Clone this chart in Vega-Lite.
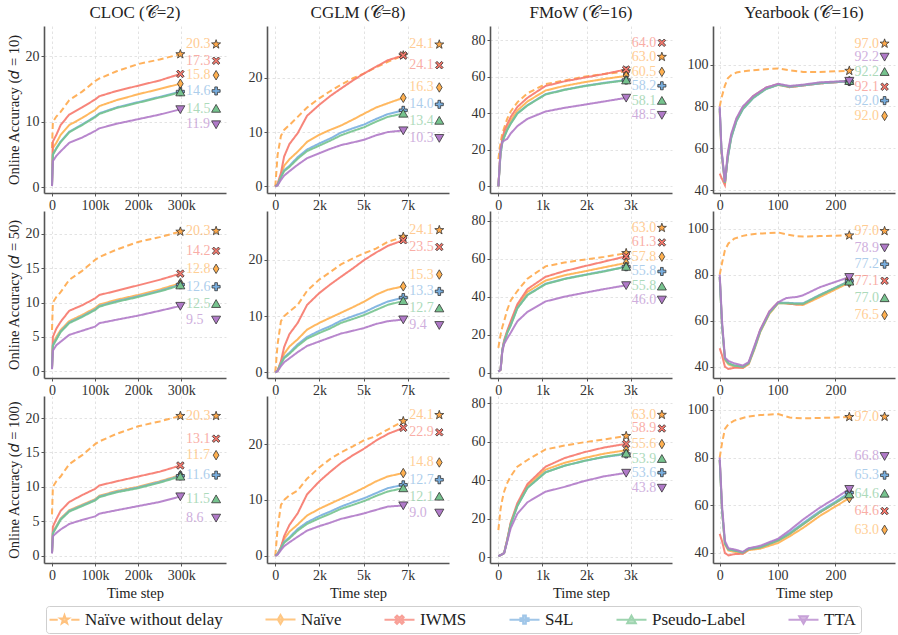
{
"$schema":"https://vega.github.io/schema/vega-lite/v6.json",
"padding":{"left":6,"top":4,"right":4,"bottom":2},
"background":"white",
"datasets":{
"d":[
{"p":"A1","x":0,"nd":6,"nv":0.3,"iw":0.5,"s4":0.3,"pl":0.3,"tt":0.2},
{"p":"A1","x":2000,"nd":10,"nv":6.0,"iw":7.0,"s4":5.0,"pl":5.0,"tt":4.0},
{"p":"A1","x":10000,"nd":10.8,"nv":6.8,"iw":8.0,"s4":6.0,"pl":5.9,"tt":4.8},
{"p":"A1","x":20000,"nd":11.5,"nv":8.0,"iw":9.5,"s4":7.0,"pl":6.9,"tt":5.5},
{"p":"A1","x":40000,"nd":13.3,"nv":9.5,"iw":11.1,"s4":8.5,"pl":8.4,"tt":6.8},
{"p":"A1","x":70000,"nd":14.6,"nv":10.6,"iw":12.2,"s4":9.6,"pl":9.5,"tt":7.6},
{"p":"A1","x":100000,"nd":16.2,"nv":11.8,"iw":13.4,"s4":10.8,"pl":10.7,"tt":8.6},
{"p":"A1","x":110000,"nd":16.6,"nv":12.4,"iw":13.9,"s4":11.3,"pl":11.2,"tt":9.0},
{"p":"A1","x":150000,"nd":17.7,"nv":13.3,"iw":14.7,"s4":12.2,"pl":12.1,"tt":9.7},
{"p":"A1","x":200000,"nd":18.8,"nv":14.2,"iw":15.5,"s4":13.0,"pl":12.9,"tt":10.4},
{"p":"A1","x":250000,"nd":19.5,"nv":15.0,"iw":16.3,"s4":13.8,"pl":13.7,"tt":11.1},
{"p":"A1","x":298000,"nd":20.3,"nv":15.8,"iw":17.3,"s4":14.6,"pl":14.5,"tt":11.9},
{"p":"A2","x":0,"nd":6,"nv":0.5,"iw":0.5,"s4":0.4,"pl":0.4,"tt":0.3},
{"p":"A2","x":2000,"nd":10,"nv":4.0,"iw":5.0,"s4":3.8,"pl":3.7,"tt":3.0},
{"p":"A2","x":10000,"nd":10.8,"nv":5.0,"iw":6.2,"s4":4.7,"pl":4.6,"tt":3.8},
{"p":"A2","x":20000,"nd":11.5,"nv":6.0,"iw":7.2,"s4":5.8,"pl":5.7,"tt":4.3},
{"p":"A2","x":40000,"nd":13.3,"nv":7.3,"iw":8.8,"s4":7.1,"pl":7.0,"tt":5.3},
{"p":"A2","x":70000,"nd":14.6,"nv":8.2,"iw":9.6,"s4":8.0,"pl":7.9,"tt":5.9},
{"p":"A2","x":100000,"nd":16.2,"nv":9.2,"iw":10.6,"s4":9.0,"pl":8.9,"tt":6.5},
{"p":"A2","x":110000,"nd":16.6,"nv":9.7,"iw":11.1,"s4":9.5,"pl":9.4,"tt":7.0},
{"p":"A2","x":150000,"nd":17.7,"nv":10.4,"iw":11.7,"s4":10.2,"pl":10.1,"tt":7.5},
{"p":"A2","x":200000,"nd":18.8,"nv":11.1,"iw":12.5,"s4":10.9,"pl":10.8,"tt":8.1},
{"p":"A2","x":250000,"nd":19.5,"nv":11.9,"iw":13.3,"s4":11.7,"pl":11.6,"tt":8.8},
{"p":"A2","x":298000,"nd":20.3,"nv":12.8,"iw":14.2,"s4":12.6,"pl":12.5,"tt":9.5},
{"p":"A3","x":0,"nd":6,"nv":0.4,"iw":0.5,"s4":0.4,"pl":0.4,"tt":0.3},
{"p":"A3","x":2000,"nd":10,"nv":3.5,"iw":4.2,"s4":3.3,"pl":3.2,"tt":2.8},
{"p":"A3","x":10000,"nd":10.8,"nv":4.3,"iw":5.3,"s4":4.2,"pl":4.1,"tt":3.3},
{"p":"A3","x":20000,"nd":11.5,"nv":5.4,"iw":6.5,"s4":5.3,"pl":5.2,"tt":3.8},
{"p":"A3","x":40000,"nd":13.3,"nv":6.6,"iw":7.8,"s4":6.5,"pl":6.4,"tt":4.6},
{"p":"A3","x":70000,"nd":14.6,"nv":7.4,"iw":8.8,"s4":7.3,"pl":7.2,"tt":5.2},
{"p":"A3","x":100000,"nd":16.2,"nv":8.2,"iw":9.7,"s4":8.1,"pl":8.0,"tt":5.7},
{"p":"A3","x":110000,"nd":16.6,"nv":8.7,"iw":10.2,"s4":8.6,"pl":8.5,"tt":6.1},
{"p":"A3","x":150000,"nd":17.7,"nv":9.4,"iw":10.8,"s4":9.3,"pl":9.2,"tt":6.6},
{"p":"A3","x":200000,"nd":18.8,"nv":10.0,"iw":11.5,"s4":9.9,"pl":9.8,"tt":7.2},
{"p":"A3","x":250000,"nd":19.5,"nv":10.8,"iw":12.2,"s4":10.7,"pl":10.6,"tt":7.8},
{"p":"A3","x":298000,"nd":20.3,"nv":11.7,"iw":13.1,"s4":11.6,"pl":11.5,"tt":8.6},
{"p":"B1","x":0,"nd":0,"nv":0,"iw":0,"s4":0,"pl":0,"tt":0},
{"p":"B1","x":130,"nd":5.8,"nv":0.3,"iw":0.5,"s4":0.3,"pl":0.3,"tt":0.2},
{"p":"B1","x":320,"nd":9.3,"nv":2.0,"iw":2.5,"s4":1.8,"pl":1.7,"tt":1.2},
{"p":"B1","x":500,"nd":10.4,"nv":3.8,"iw":5.5,"s4":3.0,"pl":2.8,"tt":2.0},
{"p":"B1","x":800,"nd":11.3,"nv":5.0,"iw":7.8,"s4":3.8,"pl":3.6,"tt":2.8},
{"p":"B1","x":1270,"nd":12.8,"nv":6.4,"iw":9.8,"s4":5.4,"pl":5.1,"tt":4.0},
{"p":"B1","x":1800,"nd":14.5,"nv":8.2,"iw":13.0,"s4":6.8,"pl":6.5,"tt":5.2},
{"p":"B1","x":2490,"nd":16.2,"nv":9.5,"iw":15.0,"s4":7.9,"pl":7.5,"tt":6.1},
{"p":"B1","x":3100,"nd":17.5,"nv":10.4,"iw":16.6,"s4":8.8,"pl":8.4,"tt":6.9},
{"p":"B1","x":3720,"nd":18.7,"nv":11.2,"iw":18.0,"s4":9.9,"pl":9.4,"tt":7.6},
{"p":"B1","x":4400,"nd":19.9,"nv":12.3,"iw":19.5,"s4":10.7,"pl":10.2,"tt":8.1},
{"p":"B1","x":5040,"nd":20.8,"nv":13.4,"iw":20.8,"s4":11.4,"pl":10.9,"tt":8.6},
{"p":"B1","x":5700,"nd":21.9,"nv":14.5,"iw":22.0,"s4":12.4,"pl":11.9,"tt":9.4},
{"p":"B1","x":6370,"nd":22.9,"nv":15.3,"iw":23.2,"s4":13.3,"pl":12.8,"tt":10.0},
{"p":"B1","x":7250,"nd":24.1,"nv":16.3,"iw":24.1,"s4":14.0,"pl":13.4,"tt":10.3},
{"p":"B2","x":0,"nd":0,"nv":0,"iw":0,"s4":0,"pl":0,"tt":0},
{"p":"B2","x":130,"nd":5.0,"nv":0.3,"iw":0.3,"s4":0.3,"pl":0.3,"tt":0.2},
{"p":"B2","x":320,"nd":9.1,"nv":1.8,"iw":2.0,"s4":1.6,"pl":1.5,"tt":1.1},
{"p":"B2","x":500,"nd":10.0,"nv":3.3,"iw":4.5,"s4":2.7,"pl":2.5,"tt":1.8},
{"p":"B2","x":800,"nd":10.8,"nv":4.6,"iw":6.8,"s4":3.5,"pl":3.3,"tt":2.5},
{"p":"B2","x":1270,"nd":12.0,"nv":5.9,"iw":8.8,"s4":5.0,"pl":4.7,"tt":3.6},
{"p":"B2","x":1800,"nd":14.5,"nv":7.6,"iw":12.0,"s4":6.3,"pl":6.0,"tt":4.7},
{"p":"B2","x":2490,"nd":16.5,"nv":8.8,"iw":14.1,"s4":7.4,"pl":7.0,"tt":5.5},
{"p":"B2","x":3100,"nd":17.8,"nv":9.7,"iw":15.6,"s4":8.2,"pl":7.8,"tt":6.2},
{"p":"B2","x":3720,"nd":19.2,"nv":10.6,"iw":17.0,"s4":9.2,"pl":8.8,"tt":6.9},
{"p":"B2","x":4400,"nd":20.3,"nv":11.6,"iw":18.5,"s4":10.0,"pl":9.5,"tt":7.4},
{"p":"B2","x":5040,"nd":21.2,"nv":12.6,"iw":20.0,"s4":10.7,"pl":10.2,"tt":7.9},
{"p":"B2","x":5700,"nd":22.0,"nv":13.8,"iw":21.3,"s4":11.7,"pl":11.1,"tt":8.6},
{"p":"B2","x":6370,"nd":23.2,"nv":14.7,"iw":22.5,"s4":12.6,"pl":12.0,"tt":9.1},
{"p":"B2","x":7250,"nd":24.1,"nv":15.3,"iw":23.5,"s4":13.3,"pl":12.7,"tt":9.4},
{"p":"B3","x":0,"nd":0,"nv":0,"iw":0,"s4":0,"pl":0,"tt":0},
{"p":"B3","x":130,"nd":4.9,"nv":0.3,"iw":0.3,"s4":0.3,"pl":0.3,"tt":0.2},
{"p":"B3","x":320,"nd":9.1,"nv":1.6,"iw":1.5,"s4":1.4,"pl":1.3,"tt":1.0},
{"p":"B3","x":500,"nd":10.0,"nv":3.0,"iw":3.5,"s4":2.5,"pl":2.3,"tt":1.7},
{"p":"B3","x":800,"nd":10.8,"nv":4.3,"iw":5.5,"s4":3.3,"pl":3.1,"tt":2.4},
{"p":"B3","x":1270,"nd":11.7,"nv":5.6,"iw":7.6,"s4":4.8,"pl":4.5,"tt":3.4},
{"p":"B3","x":1800,"nd":13.8,"nv":7.2,"iw":11.0,"s4":6.0,"pl":5.7,"tt":4.5},
{"p":"B3","x":2490,"nd":15.8,"nv":8.4,"iw":13.3,"s4":7.1,"pl":6.7,"tt":5.3},
{"p":"B3","x":3100,"nd":17.3,"nv":9.3,"iw":15.0,"s4":7.9,"pl":7.5,"tt":5.9},
{"p":"B3","x":3720,"nd":18.5,"nv":10.2,"iw":16.6,"s4":8.8,"pl":8.4,"tt":6.6},
{"p":"B3","x":4400,"nd":19.6,"nv":11.2,"iw":18.0,"s4":9.6,"pl":9.1,"tt":7.1},
{"p":"B3","x":5040,"nd":20.7,"nv":12.2,"iw":19.2,"s4":10.3,"pl":9.8,"tt":7.6},
{"p":"B3","x":5700,"nd":21.4,"nv":13.3,"iw":20.6,"s4":11.2,"pl":10.7,"tt":8.2},
{"p":"B3","x":6370,"nd":22.6,"nv":14.2,"iw":21.8,"s4":12.1,"pl":11.5,"tt":8.8},
{"p":"B3","x":7250,"nd":24.1,"nv":14.8,"iw":22.9,"s4":12.7,"pl":12.1,"tt":9.0},
{"p":"C1","x":0,"nd":15,"nv":0,"iw":0,"s4":0,"pl":0,"tt":0},
{"p":"C1","x":50,"nd":24,"nv":19,"iw":20,"s4":18,"pl":18,"tt":20},
{"p":"C1","x":90,"nd":29,"nv":25,"iw":26,"s4":24,"pl":24,"tt":24.5},
{"p":"C1","x":130,"nd":32,"nv":28,"iw":30,"s4":27,"pl":26.8,"tt":25},
{"p":"C1","x":200,"nd":37,"nv":32,"iw":34,"s4":31,"pl":30.8,"tt":26},
{"p":"C1","x":280,"nd":41,"nv":36,"iw":38,"s4":34.5,"pl":34.3,"tt":29},
{"p":"C1","x":430,"nd":46,"nv":41.5,"iw":43.5,"s4":40,"pl":39.8,"tt":33},
{"p":"C1","x":660,"nd":51,"nv":46.5,"iw":48.5,"s4":44.5,"pl":44.3,"tt":37},
{"p":"C1","x":1070,"nd":56,"nv":52.5,"iw":55,"s4":50.5,"pl":50.3,"tt":41},
{"p":"C1","x":1500,"nd":58,"nv":55,"iw":57.5,"s4":53,"pl":52.8,"tt":43},
{"p":"C1","x":1940,"nd":60,"nv":57,"iw":59.5,"s4":55,"pl":54.8,"tt":44.7},
{"p":"C1","x":2400,"nd":61.5,"nv":58.8,"iw":61.5,"s4":56.7,"pl":56.5,"tt":46.5},
{"p":"C1","x":2900,"nd":63.0,"nv":60.5,"iw":64.0,"s4":58.2,"pl":58.1,"tt":48.5},
{"p":"C2","x":0,"nd":13,"nv":0.5,"iw":0.5,"s4":0.5,"pl":0.5,"tt":0.5},
{"p":"C2","x":50,"nd":20,"nv":1.5,"iw":1.5,"s4":1.5,"pl":1.5,"tt":1.5},
{"p":"C2","x":90,"nd":24,"nv":12,"iw":12,"s4":12,"pl":11.8,"tt":11},
{"p":"C2","x":130,"nd":27,"nv":16.5,"iw":17,"s4":16,"pl":15.8,"tt":15},
{"p":"C2","x":200,"nd":33,"nv":21.5,"iw":22,"s4":21,"pl":20.8,"tt":18},
{"p":"C2","x":280,"nd":38,"nv":26,"iw":27,"s4":25,"pl":24.8,"tt":21},
{"p":"C2","x":430,"nd":43,"nv":35,"iw":36,"s4":34,"pl":33.8,"tt":27},
{"p":"C2","x":660,"nd":49.5,"nv":42.5,"iw":44,"s4":41,"pl":40.8,"tt":32},
{"p":"C2","x":1070,"nd":56,"nv":48.5,"iw":50.5,"s4":46.8,"pl":46.6,"tt":37.5},
{"p":"C2","x":1500,"nd":58,"nv":51.3,"iw":53.5,"s4":49.5,"pl":49.3,"tt":40},
{"p":"C2","x":1940,"nd":59.5,"nv":53.3,"iw":56,"s4":51.5,"pl":51.3,"tt":42},
{"p":"C2","x":2400,"nd":61,"nv":55.5,"iw":58.5,"s4":53.5,"pl":53.3,"tt":44},
{"p":"C2","x":2900,"nd":63.0,"nv":57.8,"iw":61.3,"s4":55.8,"pl":55.8,"tt":46.0},
{"p":"C3","x":0,"nd":14,"nv":0.5,"iw":0.5,"s4":0.5,"pl":0.5,"tt":0.5},
{"p":"C3","x":50,"nd":25,"nv":1,"iw":1,"s4":1,"pl":1,"tt":1},
{"p":"C3","x":90,"nd":30,"nv":1.5,"iw":1.5,"s4":1.5,"pl":1.5,"tt":1.5},
{"p":"C3","x":130,"nd":34,"nv":2,"iw":2,"s4":2,"pl":2,"tt":2},
{"p":"C3","x":200,"nd":38.5,"nv":9,"iw":9,"s4":8.5,"pl":8.5,"tt":8},
{"p":"C3","x":280,"nd":42,"nv":17.5,"iw":18,"s4":17,"pl":17,"tt":15},
{"p":"C3","x":430,"nd":47,"nv":27,"iw":28,"s4":26.5,"pl":26.5,"tt":22.5},
{"p":"C3","x":660,"nd":50.5,"nv":37,"iw":38,"s4":36,"pl":36,"tt":28.5},
{"p":"C3","x":1070,"nd":56,"nv":45.5,"iw":47,"s4":44.2,"pl":44,"tt":34},
{"p":"C3","x":1500,"nd":58,"nv":49,"iw":51.5,"s4":47.5,"pl":47.5,"tt":36.5},
{"p":"C3","x":1940,"nd":59.7,"nv":51.5,"iw":54.5,"s4":50,"pl":50,"tt":39.5},
{"p":"C3","x":2400,"nd":61.2,"nv":53.8,"iw":57,"s4":52,"pl":52.2,"tt":42},
{"p":"C3","x":2900,"nd":63.0,"nv":55.6,"iw":58.9,"s4":53.6,"pl":53.9,"tt":43.8},
{"p":"D1","x":0,"nd":80,"nv":78,"iw":48,"s4":79,"pl":79,"tt":80},
{"p":"D1","x":3,"nd":84,"nv":58,"iw":46,"s4":59,"pl":59,"tt":60},
{"p":"D1","x":9,"nd":90,"nv":43,"iw":42.5,"s4":43.5,"pl":43.5,"tt":44},
{"p":"D1","x":14,"nd":93.4,"nv":56,"iw":57,"s4":55.5,"pl":56,"tt":58},
{"p":"D1","x":20,"nd":95,"nv":65.5,"iw":66,"s4":65,"pl":65.5,"tt":67},
{"p":"D1","x":29,"nd":96.2,"nv":73.5,"iw":74,"s4":73,"pl":73.2,"tt":74.5},
{"p":"D1","x":40,"nd":96.8,"nv":79,"iw":79.5,"s4":78.6,"pl":78.8,"tt":80},
{"p":"D1","x":58,"nd":97.3,"nv":84.3,"iw":85,"s4":84,"pl":84.2,"tt":85},
{"p":"D1","x":80,"nd":97.8,"nv":88.5,"iw":89,"s4":88.3,"pl":88.4,"tt":89},
{"p":"D1","x":101,"nd":98.1,"nv":90.3,"iw":90.7,"s4":90.3,"pl":90.4,"tt":90.8},
{"p":"D1","x":121,"nd":97.3,"nv":89.2,"iw":89.2,"s4":89.4,"pl":89.5,"tt":89.8},
{"p":"D1","x":144,"nd":96.5,"nv":90.0,"iw":90.0,"s4":90.0,"pl":90.2,"tt":90.4},
{"p":"D1","x":173,"nd":96.5,"nv":91,"iw":91,"s4":91,"pl":91.2,"tt":91.5},
{"p":"D1","x":224,"nd":97.0,"nv":92.0,"iw":92.1,"s4":92.0,"pl":92.2,"tt":92.2},
{"p":"D2","x":0,"nd":80,"nv":79,"iw":48,"s4":79,"pl":79,"tt":80},
{"p":"D2","x":4,"nd":85,"nv":58,"iw":45,"s4":58,"pl":58,"tt":60},
{"p":"D2","x":9,"nd":90.5,"nv":43,"iw":40,"s4":43.5,"pl":43.5,"tt":44},
{"p":"D2","x":15,"nd":93.5,"nv":41,"iw":39,"s4":41.5,"pl":41.5,"tt":42.5},
{"p":"D2","x":25,"nd":95.6,"nv":40,"iw":39.5,"s4":40.5,"pl":40.5,"tt":41.5},
{"p":"D2","x":40,"nd":96.8,"nv":39.5,"iw":39.5,"s4":40,"pl":40,"tt":40.5},
{"p":"D2","x":50,"nd":97.3,"nv":41,"iw":41.5,"s4":41.5,"pl":41.5,"tt":42},
{"p":"D2","x":60,"nd":97.6,"nv":47.5,"iw":48.5,"s4":48,"pl":48,"tt":49},
{"p":"D2","x":70,"nd":97.8,"nv":55,"iw":56,"s4":55.5,"pl":55.3,"tt":56},
{"p":"D2","x":86,"nd":98.0,"nv":63,"iw":64,"s4":63.5,"pl":63.3,"tt":64},
{"p":"D2","x":101,"nd":98.3,"nv":67.5,"iw":68,"s4":67.8,"pl":67.6,"tt":68},
{"p":"D2","x":115,"nd":97.5,"nv":67.5,"iw":67.5,"s4":67.8,"pl":67.6,"tt":69.8},
{"p":"D2","x":133,"nd":96.6,"nv":67.0,"iw":67.0,"s4":67.5,"pl":67.3,"tt":70.3},
{"p":"D2","x":144,"nd":96.5,"nv":66.8,"iw":67.2,"s4":67.5,"pl":67.3,"tt":71},
{"p":"D2","x":173,"nd":96.7,"nv":70.2,"iw":71,"s4":71.2,"pl":71,"tt":74.5},
{"p":"D2","x":224,"nd":97.0,"nv":76.5,"iw":77.1,"s4":77.2,"pl":77.0,"tt":78.9},
{"p":"D3","x":0,"nd":80,"nv":79,"iw":48,"s4":79,"pl":79,"tt":80},
{"p":"D3","x":4,"nd":86,"nv":58,"iw":45,"s4":58,"pl":58,"tt":60},
{"p":"D3","x":9,"nd":92,"nv":43.5,"iw":40,"s4":44,"pl":44,"tt":45},
{"p":"D3","x":15,"nd":94,"nv":41,"iw":39,"s4":41.5,"pl":41.5,"tt":42},
{"p":"D3","x":25,"nd":95.5,"nv":40.5,"iw":39.5,"s4":41,"pl":41,"tt":41.5},
{"p":"D3","x":40,"nd":96.6,"nv":39.7,"iw":39.7,"s4":40.2,"pl":40.2,"tt":40.5},
{"p":"D3","x":50,"nd":97.2,"nv":41.2,"iw":41.5,"s4":41.8,"pl":41.6,"tt":42},
{"p":"D3","x":70,"nd":97.8,"nv":41.8,"iw":42.3,"s4":42.5,"pl":42.3,"tt":43},
{"p":"D3","x":101,"nd":98.2,"nv":44.2,"iw":45.2,"s4":45.6,"pl":45.2,"tt":46},
{"p":"D3","x":121,"nd":96.8,"nv":47,"iw":48,"s4":48.5,"pl":48,"tt":49.5},
{"p":"D3","x":144,"nd":96.4,"nv":50.5,"iw":52,"s4":52.5,"pl":52,"tt":54},
{"p":"D3","x":173,"nd":96.6,"nv":55.5,"iw":57,"s4":57.5,"pl":57,"tt":59},
{"p":"D3","x":200,"nd":96.8,"nv":59.5,"iw":61,"s4":61.5,"pl":61,"tt":63},
{"p":"D3","x":224,"nd":97.0,"nv":63.0,"iw":64.6,"s4":65.3,"pl":64.6,"tt":66.8}
],
"l":[
{"p":"A1","s":"nd","v":20.3,"x":381000,"y":21.8},
{"p":"A1","s":"iw","v":17.3,"x":381000,"y":19.3},
{"p":"A1","s":"nv","v":15.8,"x":381000,"y":17.1},
{"p":"A1","s":"s4","v":14.6,"x":381000,"y":14.7},
{"p":"A1","s":"pl","v":14.5,"x":381000,"y":12.0},
{"p":"A1","s":"tt","v":11.9,"x":381000,"y":9.6},
{"p":"A2","s":"nd","v":20.3,"x":381000,"y":20.4},
{"p":"A2","s":"iw","v":14.2,"x":381000,"y":17.5},
{"p":"A2","s":"nv","v":12.8,"x":381000,"y":14.9},
{"p":"A2","s":"s4","v":12.6,"x":381000,"y":12.3},
{"p":"A2","s":"pl","v":12.5,"x":381000,"y":9.8},
{"p":"A2","s":"tt","v":9.5,"x":381000,"y":7.5},
{"p":"A3","s":"nd","v":20.3,"x":381000,"y":20.3},
{"p":"A3","s":"iw","v":13.1,"x":381000,"y":17.0},
{"p":"A3","s":"nv","v":11.7,"x":381000,"y":14.6},
{"p":"A3","s":"s4","v":11.6,"x":381000,"y":11.7},
{"p":"A3","s":"pl","v":11.5,"x":381000,"y":8.2},
{"p":"A3","s":"tt","v":8.6,"x":381000,"y":5.5},
{"p":"B1","s":"nd","v":24.1,"x":9290,"y":26.1},
{"p":"B1","s":"iw","v":24.1,"x":9290,"y":22.3},
{"p":"B1","s":"nv","v":16.3,"x":9290,"y":18.2},
{"p":"B1","s":"s4","v":14.0,"x":9290,"y":15.1},
{"p":"B1","s":"pl","v":13.4,"x":9290,"y":12.1},
{"p":"B1","s":"tt","v":10.3,"x":9290,"y":8.9},
{"p":"B2","s":"nd","v":24.1,"x":9290,"y":25.3},
{"p":"B2","s":"iw","v":23.5,"x":9290,"y":22.3},
{"p":"B2","s":"nv","v":15.3,"x":9290,"y":17.4},
{"p":"B2","s":"s4","v":13.3,"x":9290,"y":14.4},
{"p":"B2","s":"pl","v":12.7,"x":9290,"y":11.4},
{"p":"B2","s":"tt","v":9.4,"x":9290,"y":8.4},
{"p":"B3","s":"nd","v":24.1,"x":9290,"y":25.2},
{"p":"B3","s":"iw","v":22.9,"x":9290,"y":22.1},
{"p":"B3","s":"nv","v":14.8,"x":9290,"y":16.7},
{"p":"B3","s":"s4","v":12.7,"x":9290,"y":13.6},
{"p":"B3","s":"pl","v":12.1,"x":9290,"y":10.6},
{"p":"B3","s":"tt","v":9.0,"x":9290,"y":7.7},
{"p":"C1","s":"iw","v":64.0,"x":3710,"y":78.6},
{"p":"C1","s":"nd","v":63.0,"x":3710,"y":70.9},
{"p":"C1","s":"nv","v":60.5,"x":3710,"y":62.7},
{"p":"C1","s":"s4","v":58.2,"x":3710,"y":55.1},
{"p":"C1","s":"pl","v":58.1,"x":3710,"y":46.9},
{"p":"C1","s":"tt","v":48.5,"x":3710,"y":39.1},
{"p":"C2","s":"nd","v":63.0,"x":3710,"y":76.3},
{"p":"C2","s":"iw","v":61.3,"x":3710,"y":68.6},
{"p":"C2","s":"nv","v":57.8,"x":3710,"y":61.1},
{"p":"C2","s":"s4","v":55.8,"x":3710,"y":53.3},
{"p":"C2","s":"pl","v":55.8,"x":3710,"y":45.4},
{"p":"C2","s":"tt","v":46.0,"x":3710,"y":38.4},
{"p":"C3","s":"nd","v":63.0,"x":3710,"y":74.0},
{"p":"C3","s":"iw","v":58.9,"x":3710,"y":66.9},
{"p":"C3","s":"nv","v":55.6,"x":3710,"y":58.8},
{"p":"C3","s":"pl","v":53.9,"x":3710,"y":51.1},
{"p":"C3","s":"s4","v":53.6,"x":3710,"y":43.9},
{"p":"C3","s":"tt","v":43.8,"x":3710,"y":36.0},
{"p":"D1","s":"nd","v":97.0,"x":285,"y":110.0},
{"p":"D1","s":"tt","v":92.2,"x":285,"y":103.7},
{"p":"D1","s":"pl","v":92.2,"x":285,"y":96.5},
{"p":"D1","s":"iw","v":92.1,"x":285,"y":89.4},
{"p":"D1","s":"s4","v":92.0,"x":285,"y":82.8},
{"p":"D1","s":"nv","v":92.0,"x":285,"y":75.5},
{"p":"D2","s":"nd","v":97.0,"x":285,"y":98.9},
{"p":"D2","s":"tt","v":78.9,"x":285,"y":91.7},
{"p":"D2","s":"s4","v":77.2,"x":285,"y":84.5},
{"p":"D2","s":"iw","v":77.1,"x":285,"y":77.3},
{"p":"D2","s":"pl","v":77.0,"x":285,"y":69.8},
{"p":"D2","s":"nv","v":76.5,"x":285,"y":62.4},
{"p":"D3","s":"nd","v":97.0,"x":285,"y":97.1},
{"p":"D3","s":"tt","v":66.8,"x":285,"y":80.6},
{"p":"D3","s":"s4","v":65.3,"x":285,"y":72.6},
{"p":"D3","s":"pl","v":64.6,"x":285,"y":64.9},
{"p":"D3","s":"iw","v":64.6,"x":285,"y":57.6},
{"p":"D3","s":"nv","v":63.0,"x":285,"y":49.7}
]
},
"spacing":5,
"resolve":{"scale":{"x":"independent","y":"independent","shape":"independent","fill":"independent","stroke":"independent","color":"independent","strokeDash":"independent"}},
"vconcat":[
{"columns":4,
"spacing":{"row":18,"column":41},
"bounds":"flush",
"resolve":{"scale":{"x":"independent","y":"independent","color":"shared","shape":"shared","strokeDash":"shared"}},
"concat":[
{"width":182,"height":167,"title":{"text":"CLOC (𝒞=2)","fontWeight":"normal"},
"encoding":{"x":{"field":"x","type":"quantitative","scale":{"domain":[-18600,404000],"nice":false,"zero":false},"axis":{"values":[0,100000,200000,300000],"labelExpr":"datum.value==0?'0':floor(datum.value/1000)+'k'","title":null}},
"y":{"field":"y","type":"quantitative","scale":{"domain":[-0.85,24.6],"nice":false,"zero":false},"axis":{"values":[0,10,20],"title":"Online Accuracy (𝑑 = 10)"}},
"color":{"field":"s","type":"nominal","scale":{"domain":["nd","nv","iw","s4","pl","tt"],"range":["#FFA94A","#FFB04F","#F6786C","#78AEDF","#76C38E","#B07AC8"]},"legend":null}},
"layer":[
{"data":{"name":"d"},"transform":[{"filter":"datum.p=='A1'"},{"fold":["nd","nv","iw","s4","pl","tt"],"as":["s","y"]}],"mark":{"type":"line","strokeWidth":2,"opacity":0.9},"encoding":{"strokeDash":{"field":"s","type":"nominal","scale":{"domain":["nd","nv","iw","s4","pl","tt"],"range":[[6,3.5],[1,0],[1,0],[1,0],[1,0],[1,0]]},"legend":null}}},
{"data":{"name":"d"},"transform":[{"filter":"datum.p=='A1'"},{"fold":["nd","nv","iw","s4","pl","tt"],"as":["s","y"]},{"joinaggregate":[{"op":"max","field":"x","as":"xm"}]},{"filter":"datum.x==datum.xm"}],"mark":{"type":"point","filled":true,"stroke":"#333","strokeWidth":0.8,"size":90,"opacity":1},"encoding":{"shape":{"field":"s","type":"nominal","scale":{"domain":["nd","nv","iw","s4","pl","tt"],"range":["M0,-1L0.235,-0.324L0.951,-0.309L0.38,0.124L0.588,0.809L0,0.4L-0.588,0.809L-0.38,0.124L-0.951,-0.309L-0.235,-0.324Z","M0,-1L0.6,0L0,1L-0.6,0Z","M0,-0.32L0.48,-0.8L0.8,-0.48L0.32,0L0.8,0.48L0.48,0.8L0,0.32L-0.48,0.8L-0.8,0.48L-0.32,0L-0.8,-0.48L-0.48,-0.8Z","M-0.28,-0.85H0.28V-0.28H0.85V0.28H0.28V0.85H-0.28V0.28H-0.85V-0.28H-0.28Z","M0,-0.9L0.95,0.75L-0.95,0.75Z","M0,0.9L0.95,-0.75L-0.95,-0.75Z"]},"legend":null}}},
{"data":{"name":"l"},"transform":[{"filter":"datum.p=='A1'"}],"mark":{"type":"text","align":"left","baseline":"middle","dx":-30,"fontSize":14,"opacity":0.6},"encoding":{"text":{"field":"v","type":"quantitative","format":".1f"}}},
{"data":{"name":"l"},"transform":[{"filter":"datum.p=='A1'"}],"mark":{"type":"point","filled":true,"stroke":"#333","strokeWidth":0.8,"size":90,"opacity":1},"encoding":{"shape":{"field":"s","type":"nominal","legend":null}}}
]},
{"width":182,"height":167,"title":{"text":"CGLM (𝒞=8)","fontWeight":"normal"},
"encoding":{"x":{"field":"x","type":"quantitative","scale":{"domain":[-470,9840],"nice":false,"zero":false},"axis":{"values":[0,2500,5000,7500],"labelExpr":"datum.value==0?'0':floor(datum.value/1000)+'k'","title":null}},
"y":{"field":"y","type":"quantitative","scale":{"domain":[-1.2,29.5],"nice":false,"zero":false},"axis":{"values":[0,10,20],"title":null}},
"color":{"field":"s","type":"nominal","legend":null}},
"layer":[
{"data":{"name":"d"},"transform":[{"filter":"datum.p=='B1'"},{"fold":["nd","nv","iw","s4","pl","tt"],"as":["s","y"]}],"mark":{"type":"line","strokeWidth":2,"opacity":0.9},"encoding":{"strokeDash":{"field":"s","type":"nominal","legend":null}}},
{"data":{"name":"d"},"transform":[{"filter":"datum.p=='B1'"},{"fold":["nd","nv","iw","s4","pl","tt"],"as":["s","y"]},{"joinaggregate":[{"op":"max","field":"x","as":"xm"}]},{"filter":"datum.x==datum.xm"}],"mark":{"type":"point","filled":true,"stroke":"#333","strokeWidth":0.8,"size":90,"opacity":1},"encoding":{"shape":{"field":"s","type":"nominal","legend":null}}},
{"data":{"name":"l"},"transform":[{"filter":"datum.p=='B1'"}],"mark":{"type":"text","align":"left","baseline":"middle","dx":-30,"fontSize":14,"opacity":0.6},"encoding":{"text":{"field":"v","type":"quantitative","format":".1f"}}},
{"data":{"name":"l"},"transform":[{"filter":"datum.p=='B1'"}],"mark":{"type":"point","filled":true,"stroke":"#333","strokeWidth":0.8,"size":90,"opacity":1},"encoding":{"shape":{"field":"s","type":"nominal","legend":null}}}
]},
{"width":182,"height":167,"title":{"text":"FMoW (𝒞=16)","fontWeight":"normal"},
"encoding":{"x":{"field":"x","type":"quantitative","scale":{"domain":[-190,3940],"nice":false,"zero":false},"axis":{"values":[0,1000,2000,3000],"labelExpr":"datum.value==0?'0':floor(datum.value/1000)+'k'","title":null}},
"y":{"field":"y","type":"quantitative","scale":{"domain":[-3.6,87.8],"nice":false,"zero":false},"axis":{"values":[0,20,40,60,80],"title":null}},
"color":{"field":"s","type":"nominal","legend":null}},
"layer":[
{"data":{"name":"d"},"transform":[{"filter":"datum.p=='C1'"},{"fold":["nd","nv","iw","s4","pl","tt"],"as":["s","y"]}],"mark":{"type":"line","strokeWidth":2,"opacity":0.9},"encoding":{"strokeDash":{"field":"s","type":"nominal","legend":null}}},
{"data":{"name":"d"},"transform":[{"filter":"datum.p=='C1'"},{"fold":["nd","nv","iw","s4","pl","tt"],"as":["s","y"]},{"joinaggregate":[{"op":"max","field":"x","as":"xm"}]},{"filter":"datum.x==datum.xm"}],"mark":{"type":"point","filled":true,"stroke":"#333","strokeWidth":0.8,"size":90,"opacity":1},"encoding":{"shape":{"field":"s","type":"nominal","legend":null}}},
{"data":{"name":"l"},"transform":[{"filter":"datum.p=='C1'"}],"mark":{"type":"text","align":"left","baseline":"middle","dx":-30,"fontSize":14,"opacity":0.6},"encoding":{"text":{"field":"v","type":"quantitative","format":".1f"}}},
{"data":{"name":"l"},"transform":[{"filter":"datum.p=='C1'"}],"mark":{"type":"point","filled":true,"stroke":"#333","strokeWidth":0.8,"size":90,"opacity":1},"encoding":{"shape":{"field":"s","type":"nominal","legend":null}}}
]},
{"width":182,"height":167,"title":{"text":"Yearbook (𝒞=16)","fontWeight":"normal"},
"encoding":{"x":{"field":"x","type":"quantitative","scale":{"domain":[-11.6,303],"nice":false,"zero":false},"axis":{"values":[0,100,200],"title":null}},
"y":{"field":"y","type":"quantitative","scale":{"domain":[38.7,118.4],"nice":false,"zero":false},"axis":{"values":[40,60,80,100],"title":null}},
"color":{"field":"s","type":"nominal","legend":null}},
"layer":[
{"data":{"name":"d"},"transform":[{"filter":"datum.p=='D1'"},{"fold":["nd","nv","iw","s4","pl","tt"],"as":["s","y"]}],"mark":{"type":"line","strokeWidth":2,"opacity":0.9},"encoding":{"strokeDash":{"field":"s","type":"nominal","legend":null}}},
{"data":{"name":"d"},"transform":[{"filter":"datum.p=='D1'"},{"fold":["nd","nv","iw","s4","pl","tt"],"as":["s","y"]},{"joinaggregate":[{"op":"max","field":"x","as":"xm"}]},{"filter":"datum.x==datum.xm"}],"mark":{"type":"point","filled":true,"stroke":"#333","strokeWidth":0.8,"size":90,"opacity":1},"encoding":{"shape":{"field":"s","type":"nominal","legend":null}}},
{"data":{"name":"l"},"transform":[{"filter":"datum.p=='D1'"}],"mark":{"type":"text","align":"left","baseline":"middle","dx":-30,"fontSize":14,"opacity":0.6},"encoding":{"text":{"field":"v","type":"quantitative","format":".1f"}}},
{"data":{"name":"l"},"transform":[{"filter":"datum.p=='D1'"}],"mark":{"type":"point","filled":true,"stroke":"#333","strokeWidth":0.8,"size":90,"opacity":1},"encoding":{"shape":{"field":"s","type":"nominal","legend":null}}}
]},
{"width":182,"height":167,
"encoding":{"x":{"field":"x","type":"quantitative","scale":{"domain":[-18600,404000],"nice":false,"zero":false},"axis":{"values":[0,100000,200000,300000],"labelExpr":"datum.value==0?'0':floor(datum.value/1000)+'k'","title":null}},
"y":{"field":"y","type":"quantitative","scale":{"domain":[-0.97,23.3],"nice":false,"zero":false},"axis":{"values":[0,5,10,15,20],"title":"Online Accuracy (𝑑 = 50)"}},
"color":{"field":"s","type":"nominal","legend":null}},
"layer":[
{"data":{"name":"d"},"transform":[{"filter":"datum.p=='A2'"},{"fold":["nd","nv","iw","s4","pl","tt"],"as":["s","y"]}],"mark":{"type":"line","strokeWidth":2,"opacity":0.9},"encoding":{"strokeDash":{"field":"s","type":"nominal","legend":null}}},
{"data":{"name":"d"},"transform":[{"filter":"datum.p=='A2'"},{"fold":["nd","nv","iw","s4","pl","tt"],"as":["s","y"]},{"joinaggregate":[{"op":"max","field":"x","as":"xm"}]},{"filter":"datum.x==datum.xm"}],"mark":{"type":"point","filled":true,"stroke":"#333","strokeWidth":0.8,"size":90,"opacity":1},"encoding":{"shape":{"field":"s","type":"nominal","legend":null}}},
{"data":{"name":"l"},"transform":[{"filter":"datum.p=='A2'"}],"mark":{"type":"text","align":"left","baseline":"middle","dx":-30,"fontSize":14,"opacity":0.6},"encoding":{"text":{"field":"v","type":"quantitative","format":".1f"}}},
{"data":{"name":"l"},"transform":[{"filter":"datum.p=='A2'"}],"mark":{"type":"point","filled":true,"stroke":"#333","strokeWidth":0.8,"size":90,"opacity":1},"encoding":{"shape":{"field":"s","type":"nominal","legend":null}}}
]},
{"width":182,"height":167,
"encoding":{"x":{"field":"x","type":"quantitative","scale":{"domain":[-470,9840],"nice":false,"zero":false},"axis":{"values":[0,2500,5000,7500],"labelExpr":"datum.value==0?'0':floor(datum.value/1000)+'k'","title":null}},
"y":{"field":"y","type":"quantitative","scale":{"domain":[-1.0,28.7],"nice":false,"zero":false},"axis":{"values":[0,10,20],"title":null}},
"color":{"field":"s","type":"nominal","legend":null}},
"layer":[
{"data":{"name":"d"},"transform":[{"filter":"datum.p=='B2'"},{"fold":["nd","nv","iw","s4","pl","tt"],"as":["s","y"]}],"mark":{"type":"line","strokeWidth":2,"opacity":0.9},"encoding":{"strokeDash":{"field":"s","type":"nominal","legend":null}}},
{"data":{"name":"d"},"transform":[{"filter":"datum.p=='B2'"},{"fold":["nd","nv","iw","s4","pl","tt"],"as":["s","y"]},{"joinaggregate":[{"op":"max","field":"x","as":"xm"}]},{"filter":"datum.x==datum.xm"}],"mark":{"type":"point","filled":true,"stroke":"#333","strokeWidth":0.8,"size":90,"opacity":1},"encoding":{"shape":{"field":"s","type":"nominal","legend":null}}},
{"data":{"name":"l"},"transform":[{"filter":"datum.p=='B2'"}],"mark":{"type":"text","align":"left","baseline":"middle","dx":-30,"fontSize":14,"opacity":0.6},"encoding":{"text":{"field":"v","type":"quantitative","format":".1f"}}},
{"data":{"name":"l"},"transform":[{"filter":"datum.p=='B2'"}],"mark":{"type":"point","filled":true,"stroke":"#333","strokeWidth":0.8,"size":90,"opacity":1},"encoding":{"shape":{"field":"s","type":"nominal","legend":null}}}
]},
{"width":182,"height":167,
"encoding":{"x":{"field":"x","type":"quantitative","scale":{"domain":[-190,3940],"nice":false,"zero":false},"axis":{"values":[0,1000,2000,3000],"labelExpr":"datum.value==0?'0':floor(datum.value/1000)+'k'","title":null}},
"y":{"field":"y","type":"quantitative","scale":{"domain":[-2.9,85.2],"nice":false,"zero":false},"axis":{"values":[0,20,40,60,80],"title":null}},
"color":{"field":"s","type":"nominal","legend":null}},
"layer":[
{"data":{"name":"d"},"transform":[{"filter":"datum.p=='C2'"},{"fold":["nd","nv","iw","s4","pl","tt"],"as":["s","y"]}],"mark":{"type":"line","strokeWidth":2,"opacity":0.9},"encoding":{"strokeDash":{"field":"s","type":"nominal","legend":null}}},
{"data":{"name":"d"},"transform":[{"filter":"datum.p=='C2'"},{"fold":["nd","nv","iw","s4","pl","tt"],"as":["s","y"]},{"joinaggregate":[{"op":"max","field":"x","as":"xm"}]},{"filter":"datum.x==datum.xm"}],"mark":{"type":"point","filled":true,"stroke":"#333","strokeWidth":0.8,"size":90,"opacity":1},"encoding":{"shape":{"field":"s","type":"nominal","legend":null}}},
{"data":{"name":"l"},"transform":[{"filter":"datum.p=='C2'"}],"mark":{"type":"text","align":"left","baseline":"middle","dx":-30,"fontSize":14,"opacity":0.6},"encoding":{"text":{"field":"v","type":"quantitative","format":".1f"}}},
{"data":{"name":"l"},"transform":[{"filter":"datum.p=='C2'"}],"mark":{"type":"point","filled":true,"stroke":"#333","strokeWidth":0.8,"size":90,"opacity":1},"encoding":{"shape":{"field":"s","type":"nominal","legend":null}}}
]},
{"width":182,"height":167,
"encoding":{"x":{"field":"x","type":"quantitative","scale":{"domain":[-11.6,303],"nice":false,"zero":false},"axis":{"values":[0,100,200],"title":null}},
"y":{"field":"y","type":"quantitative","scale":{"domain":[35.1,107.6],"nice":false,"zero":false},"axis":{"values":[40,60,80,100],"title":null}},
"color":{"field":"s","type":"nominal","legend":null}},
"layer":[
{"data":{"name":"d"},"transform":[{"filter":"datum.p=='D2'"},{"fold":["nd","nv","iw","s4","pl","tt"],"as":["s","y"]}],"mark":{"type":"line","strokeWidth":2,"opacity":0.9},"encoding":{"strokeDash":{"field":"s","type":"nominal","legend":null}}},
{"data":{"name":"d"},"transform":[{"filter":"datum.p=='D2'"},{"fold":["nd","nv","iw","s4","pl","tt"],"as":["s","y"]},{"joinaggregate":[{"op":"max","field":"x","as":"xm"}]},{"filter":"datum.x==datum.xm"}],"mark":{"type":"point","filled":true,"stroke":"#333","strokeWidth":0.8,"size":90,"opacity":1},"encoding":{"shape":{"field":"s","type":"nominal","legend":null}}},
{"data":{"name":"l"},"transform":[{"filter":"datum.p=='D2'"}],"mark":{"type":"text","align":"left","baseline":"middle","dx":-30,"fontSize":14,"opacity":0.6},"encoding":{"text":{"field":"v","type":"quantitative","format":".1f"}}},
{"data":{"name":"l"},"transform":[{"filter":"datum.p=='D2'"}],"mark":{"type":"point","filled":true,"stroke":"#333","strokeWidth":0.8,"size":90,"opacity":1},"encoding":{"shape":{"field":"s","type":"nominal","legend":null}}}
]},
{"width":182,"height":167,
"encoding":{"x":{"field":"x","type":"quantitative","scale":{"domain":[-18600,404000],"nice":false,"zero":false},"axis":{"values":[0,100000,200000,300000],"labelExpr":"datum.value==0?'0':floor(datum.value/1000)+'k'","title":"Time step"}},
"y":{"field":"y","type":"quantitative","scale":{"domain":[-1.07,23.2],"nice":false,"zero":false},"axis":{"values":[0,5,10,15,20],"title":"Online Accuracy (𝑑 = 100)"}},
"color":{"field":"s","type":"nominal","legend":null}},
"layer":[
{"data":{"name":"d"},"transform":[{"filter":"datum.p=='A3'"},{"fold":["nd","nv","iw","s4","pl","tt"],"as":["s","y"]}],"mark":{"type":"line","strokeWidth":2,"opacity":0.9},"encoding":{"strokeDash":{"field":"s","type":"nominal","legend":null}}},
{"data":{"name":"d"},"transform":[{"filter":"datum.p=='A3'"},{"fold":["nd","nv","iw","s4","pl","tt"],"as":["s","y"]},{"joinaggregate":[{"op":"max","field":"x","as":"xm"}]},{"filter":"datum.x==datum.xm"}],"mark":{"type":"point","filled":true,"stroke":"#333","strokeWidth":0.8,"size":90,"opacity":1},"encoding":{"shape":{"field":"s","type":"nominal","legend":null}}},
{"data":{"name":"l"},"transform":[{"filter":"datum.p=='A3'"}],"mark":{"type":"text","align":"left","baseline":"middle","dx":-30,"fontSize":14,"opacity":0.6},"encoding":{"text":{"field":"v","type":"quantitative","format":".1f"}}},
{"data":{"name":"l"},"transform":[{"filter":"datum.p=='A3'"}],"mark":{"type":"point","filled":true,"stroke":"#333","strokeWidth":0.8,"size":90,"opacity":1},"encoding":{"shape":{"field":"s","type":"nominal","legend":null}}}
]},
{"width":182,"height":167,
"encoding":{"x":{"field":"x","type":"quantitative","scale":{"domain":[-470,9840],"nice":false,"zero":false},"axis":{"values":[0,2500,5000,7500],"labelExpr":"datum.value==0?'0':floor(datum.value/1000)+'k'","title":"Time step"}},
"y":{"field":"y","type":"quantitative","scale":{"domain":[-1.3,28.6],"nice":false,"zero":false},"axis":{"values":[0,10,20],"title":null}},
"color":{"field":"s","type":"nominal","legend":null}},
"layer":[
{"data":{"name":"d"},"transform":[{"filter":"datum.p=='B3'"},{"fold":["nd","nv","iw","s4","pl","tt"],"as":["s","y"]}],"mark":{"type":"line","strokeWidth":2,"opacity":0.9},"encoding":{"strokeDash":{"field":"s","type":"nominal","legend":null}}},
{"data":{"name":"d"},"transform":[{"filter":"datum.p=='B3'"},{"fold":["nd","nv","iw","s4","pl","tt"],"as":["s","y"]},{"joinaggregate":[{"op":"max","field":"x","as":"xm"}]},{"filter":"datum.x==datum.xm"}],"mark":{"type":"point","filled":true,"stroke":"#333","strokeWidth":0.8,"size":90,"opacity":1},"encoding":{"shape":{"field":"s","type":"nominal","legend":null}}},
{"data":{"name":"l"},"transform":[{"filter":"datum.p=='B3'"}],"mark":{"type":"text","align":"left","baseline":"middle","dx":-30,"fontSize":14,"opacity":0.6},"encoding":{"text":{"field":"v","type":"quantitative","format":".1f"}}},
{"data":{"name":"l"},"transform":[{"filter":"datum.p=='B3'"}],"mark":{"type":"point","filled":true,"stroke":"#333","strokeWidth":0.8,"size":90,"opacity":1},"encoding":{"shape":{"field":"s","type":"nominal","legend":null}}}
]},
{"width":182,"height":167,
"encoding":{"x":{"field":"x","type":"quantitative","scale":{"domain":[-190,3940],"nice":false,"zero":false},"axis":{"values":[0,1000,2000,3000],"labelExpr":"datum.value==0?'0':floor(datum.value/1000)+'k'","title":"Time step"}},
"y":{"field":"y","type":"quantitative","scale":{"domain":[-3.1,83.8],"nice":false,"zero":false},"axis":{"values":[0,20,40,60,80],"title":null}},
"color":{"field":"s","type":"nominal","legend":null}},
"layer":[
{"data":{"name":"d"},"transform":[{"filter":"datum.p=='C3'"},{"fold":["nd","nv","iw","s4","pl","tt"],"as":["s","y"]}],"mark":{"type":"line","strokeWidth":2,"opacity":0.9},"encoding":{"strokeDash":{"field":"s","type":"nominal","legend":null}}},
{"data":{"name":"d"},"transform":[{"filter":"datum.p=='C3'"},{"fold":["nd","nv","iw","s4","pl","tt"],"as":["s","y"]},{"joinaggregate":[{"op":"max","field":"x","as":"xm"}]},{"filter":"datum.x==datum.xm"}],"mark":{"type":"point","filled":true,"stroke":"#333","strokeWidth":0.8,"size":90,"opacity":1},"encoding":{"shape":{"field":"s","type":"nominal","legend":null}}},
{"data":{"name":"l"},"transform":[{"filter":"datum.p=='C3'"}],"mark":{"type":"text","align":"left","baseline":"middle","dx":-30,"fontSize":14,"opacity":0.6},"encoding":{"text":{"field":"v","type":"quantitative","format":".1f"}}},
{"data":{"name":"l"},"transform":[{"filter":"datum.p=='C3'"}],"mark":{"type":"point","filled":true,"stroke":"#333","strokeWidth":0.8,"size":90,"opacity":1},"encoding":{"shape":{"field":"s","type":"nominal","legend":null}}}
]},
{"width":182,"height":167,
"encoding":{"x":{"field":"x","type":"quantitative","scale":{"domain":[-11.6,303],"nice":false,"zero":false},"axis":{"values":[0,100,200],"title":"Time step"}},
"y":{"field":"y","type":"quantitative","scale":{"domain":[35.8,105.8],"nice":false,"zero":false},"axis":{"values":[40,60,80,100],"title":null}},
"color":{"field":"s","type":"nominal","legend":null}},
"layer":[
{"data":{"name":"d"},"transform":[{"filter":"datum.p=='D3'"},{"fold":["nd","nv","iw","s4","pl","tt"],"as":["s","y"]}],"mark":{"type":"line","strokeWidth":2,"opacity":0.9},"encoding":{"strokeDash":{"field":"s","type":"nominal","legend":null}}},
{"data":{"name":"d"},"transform":[{"filter":"datum.p=='D3'"},{"fold":["nd","nv","iw","s4","pl","tt"],"as":["s","y"]},{"joinaggregate":[{"op":"max","field":"x","as":"xm"}]},{"filter":"datum.x==datum.xm"}],"mark":{"type":"point","filled":true,"stroke":"#333","strokeWidth":0.8,"size":90,"opacity":1},"encoding":{"shape":{"field":"s","type":"nominal","legend":null}}},
{"data":{"name":"l"},"transform":[{"filter":"datum.p=='D3'"}],"mark":{"type":"text","align":"left","baseline":"middle","dx":-30,"fontSize":14,"opacity":0.6},"encoding":{"text":{"field":"v","type":"quantitative","format":".1f"}}},
{"data":{"name":"l"},"transform":[{"filter":"datum.p=='D3'"}],"mark":{"type":"point","filled":true,"stroke":"#333","strokeWidth":0.8,"size":90,"opacity":1},"encoding":{"shape":{"field":"s","type":"nominal","legend":null}}}
]}
]},
{"width":851,"height":1,
"data":{"name":"l"},
"transform":[{"filter":"datum.p=='none'"}],
"mark":{"type":"point","filled":true},
"encoding":{
"shape":{"field":"s","type":"nominal","scale":{"domain":["nd","nv","iw","s4","pl","tt"],"range":["M-2,0H-0.9M0.9,0H2M0,-0.6L0.141,-0.194L0.571,-0.185L0.228,0.074L0.353,0.485L0,0.24L-0.353,0.485L-0.228,0.074L-0.571,-0.185L-0.141,-0.194Z","M-2,0H2M0,-0.6L0.36,0L0,0.6L-0.36,0Z","M-2,0H2M0,-0.22L0.33,-0.55L0.55,-0.33L0.22,0L0.55,0.33L0.33,0.55L0,0.22L-0.33,0.55L-0.55,0.33L-0.22,0L-0.55,-0.33L-0.33,-0.55Z","M-2,0H2M-0.18,-0.55H0.18V-0.18H0.55V0.18H0.18V0.55H-0.18V0.18H-0.55V-0.18H-0.18Z","M-2,0H2M0,-0.55L0.57,0.45L-0.57,0.45Z","M-2,0H2M0,0.55L0.57,-0.45L-0.57,-0.45Z"]},
"legend":{"title":null,"orient":"none","legendX":2,"legendY":0,"direction":"horizontal","columns":6,"columnPadding":38,"labelExpr":"datum.label=='nd'?'Naïve without delay':datum.label=='nv'?'Naïve':datum.label=='iw'?'IWMS':datum.label=='s4'?'S4L':datum.label=='pl'?'Pseudo-Label':'TTA'","labelFont":"Liberation Serif","labelFontSize":17,"labelColor":"#222","labelOffset":12,"symbolOffset":5,"symbolSize":225,"symbolStrokeWidth":2,"strokeColor":"#cfcfcf","padding":5,"cornerRadius":3,"fillColor":"#ffffff"}},
"fill":{"field":"s","type":"nominal","scale":{"domain":["nd","nv","iw","s4","pl","tt"],"range":["#FFA94A","#FFB04F","#F6786C","#78AEDF","#76C38E","#B07AC8"]}},
"stroke":{"field":"s","type":"nominal","scale":{"domain":["nd","nv","iw","s4","pl","tt"],"range":["#FFA94A","#FFB04F","#F6786C","#78AEDF","#76C38E","#B07AC8"]}}
}}
],
"config":{
"font":"Liberation Serif",
"view":{"stroke":null},
"axis":{"labelFont":"Liberation Serif","labelFontSize":14,"labelColor":"#333","titleFont":"Liberation Serif","titleFontSize":14.5,"titleFontWeight":"normal","titleColor":"#222","domainColor":"#555","domainWidth":1.6,"tickColor":"#555","tickSize":3,"gridColor":"#dcdcdc","gridDash":[2.5,2.5],"gridWidth":0.8,"labelPadding":2,"titlePadding":4},
"title":{"font":"Liberation Serif","fontSize":17,"fontWeight":"normal","color":"#222","offset":4},
"text":{"font":"Liberation Serif"}
}
}
